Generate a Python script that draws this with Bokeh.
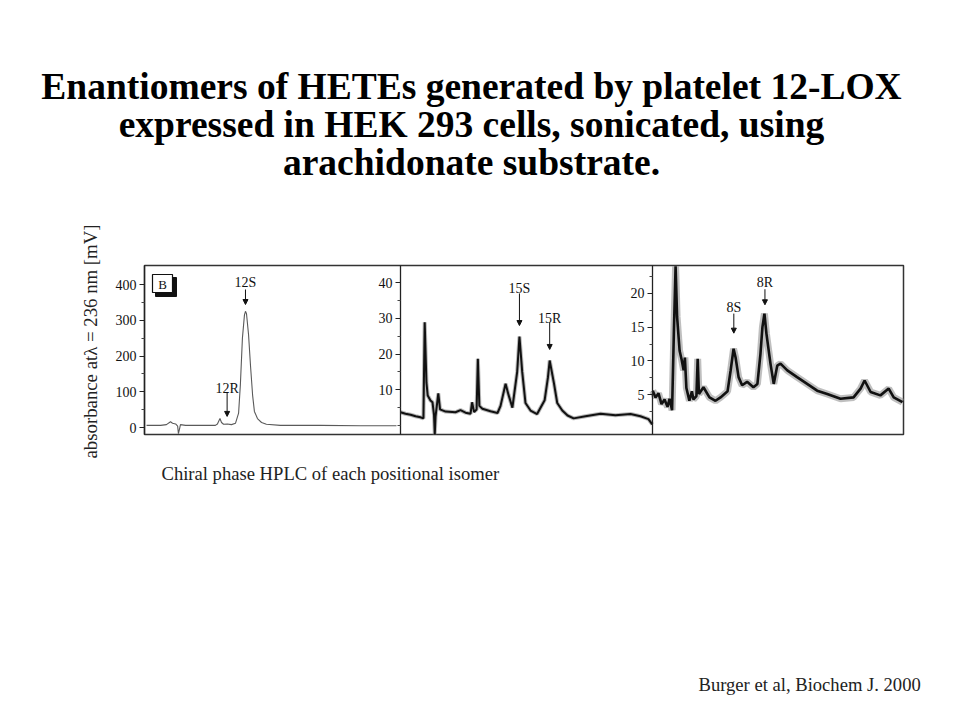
import math
from bokeh.plotting import figure
from bokeh.models import (Range1d, LinearAxis, FixedTicker, Label, Arrow, NormalHead,
                          ColumnDataSource)
from bokeh.core.properties import value
from bokeh.embed import file_html
from bokeh.resources import INLINE

# ---------------- data ----------------
# Panel B-1: 12-HETE (mV)
p1_x = [0.8, 6.3, 8.6, 10.2, 11.0, 12.2, 13.0, 13.3, 13.7, 14.1, 16.1, 22.0, 27.8, 28.6,
        29.6, 30.2, 31.0, 32.5, 34.1, 35.7, 36.9, 37.6, 38.4, 39.2, 39.6, 40.0, 40.8,
        41.6, 42.4, 43.1, 44.3, 45.9, 47.8, 53.3, 69.0, 84.7, 98.8]
p1_y = [6, 6, 8, 16, 12, 10, 4, -17, -5, 8, 6, 6, 6, 10,
        25, 14, 9, 10, 8, 12, 40, 120, 250, 315, 325, 318, 260,
        170, 90, 45, 25, 14, 9, 6, 6, 5, 5]

# Panel B-2: 15-HETE (mV)
p2_x = [0.0, 2.0, 4.0, 6.0, 7.9, 9.1, 9.6, 10.3, 10.8, 11.9, 12.7, 13.3, 13.6, 13.9,
        15.0, 15.7, 17.9, 21.8, 23.8, 25.8, 27.8, 28.4, 29.2, 30.2, 30.7, 31.3, 32.5,
        35.7, 38.5, 39.7, 41.7, 42.9, 44.4, 46.3, 47.2, 48.3, 49.6, 51.6, 54.2, 57.2,
        58.5, 59.2, 60.9, 62.2, 64.2, 66.3, 68.7, 73.4, 79.4, 85.3, 91.3, 95.2, 98.4, 99.9]
p2_y = [3.7, 3.3, 3.0, 2.6, 2.3, 2.0, 28.9, 12.0, 8.4, 7.0, 6.5, 3.0, -2.5, 2.5,
        9.0, 4.5, 3.9, 3.7, 4.3, 3.6, 3.3, 6.5, 3.8, 4.5, 18.7, 5.5, 4.7,
        4.0, 3.5, 5.5, 11.7, 8.5, 5.0, 15.0, 24.9, 15.0, 6.3, 4.2, 3.2, 7.1,
        13.4, 18.2, 11.8, 6.3, 4.2, 2.8, 2.0, 2.6, 3.3, 2.9, 3.2, 2.6, 1.8, 0.3]

# Panel B-3: 8-HETE (mV); the solvent spike runs off the top of the scale (24)
p3_x = [0.1, 1.2, 2.4, 3.6, 4.8, 6.0, 6.8, 7.8, 8.5, 9.2, 9.8, 10.8, 11.6, 12.4, 12.9,
        13.5, 14.7, 15.7, 16.3, 17.5, 18.0, 18.5, 20.3, 22.7, 25.1, 27.1, 29.9, 31.1,
        32.3, 33.1, 34.3, 35.7, 37.7, 40.2, 41.8, 43.0, 43.8, 44.6, 45.4, 47.0, 48.3,
        49.7, 51.0, 53.7, 57.6, 61.6, 65.6, 69.6, 74.9, 80.1, 82.9, 84.5, 86.9, 90.8,
        94.1, 96.1, 99.6]
p3_y = [5.6, 4.6, 5.2, 3.6, 4.3, 3.2, 4.4, 2.7, 14.0, 24.0, 16.5, 11.5, 10.2, 8.6, 10.5,
        6.0, 4.1, 5.5, 4.3, 4.8, 10.3, 5.1, 6.1, 4.6, 4.1, 4.6, 5.5, 8.5,
        11.8, 10.5, 7.6, 6.4, 6.9, 6.1, 6.6, 11.0, 15.0, 17.0, 14.0, 9.6, 6.6,
        9.3, 9.6, 8.6, 7.6, 6.6, 5.6, 5.1, 4.4, 4.6, 5.9, 7.1, 5.4, 4.9,
        5.9, 4.6, 3.9]

# peak annotations: name, label x, label y, arrow start y, arrow end y
p1_peaks = ["12S", "12R"]
p1_peak_x = [39.6, 32.4]
p1_peak_label_y = [405, 109]
p1_arrow_from = [386, 98]
p1_arrow_to = [344, 31]

p2_peaks = ["15S", "15R"]
p2_peak_x = [47.2, 59.2]
p2_peak_label_y = [38.4, 30.0]
p2_arrow_from = [37.0, 28.9]
p2_arrow_to = [28.0, 21.3]

p3_peaks = ["8S", "8R"]
p3_peak_x = [32.4, 44.8]
p3_peak_label_y = [17.9, 21.6]
p3_arrow_from = [17.0, 20.6]
p3_arrow_to = [14.1, 18.3]

p1_ticks = [0, 100, 200, 300, 400]
p2_ticks = [10, 20, 30, 40]
p3_ticks = [5, 10, 15, 20]

title_lines = ["Enantiomers of HETEs generated by platelet 12-LOX",
               "expressed in HEK 293 cells, sonicated, using",
               "arachidonate substrate."]
y_label = "absorbance at\u03bb = 236 nm [mV]"
caption = "Chiral phase HPLC of each positional isomer"
citation = "Burger et al, Biochem J. 2000"

# ---------------- layout (canvas pixels) ----------------
W, H = 944, 704
FL, FR, FT, FB = 144, 903, 265, 434          # chart box edges
panels_px = [(144, 399), (400, 652), (652, 903)]
# y pixel of value 0 and pixels per unit for each panel
y_cal = [(427, 0.3575), (425, 3.57), (428, 6.76)]

SERIF = "Liberation Serif"

p = figure(width=W, height=H, output_backend="svg", toolbar_location=None,
           x_range=Range1d(0, W), y_range=Range1d(H, 0),
           x_axis_type=None, y_axis_type=None,
           min_border=0, min_border_left=0, min_border_right=0,
           min_border_top=0, min_border_bottom=0)
p.grid.visible = False
p.outline_line_color = None
p.background_fill_color = "white"
p.border_fill_color = "white"

for i, ((l, r), (y0, ppu)) in enumerate(zip(panels_px, y_cal)):
    s = (r - l) / 100.0
    p.extra_x_ranges[f"x{i}"] = Range1d(-l / s, (W - l) / s)
    p.extra_y_ranges[f"y{i}"] = Range1d((y0 - H) / ppu, y0 / ppu)

# chart box
p.quad(left=[FL], right=[FR], top=[FT], bottom=[FB], fill_color=None,
       line_color="#333333", line_width=1.5)

# traces
p.line(p1_x, p1_y, x_range_name="x0", y_range_name="y0", line_color="#5a5a5a", line_width=1.1)
p.line(p2_x, p2_y, x_range_name="x1", y_range_name="y1", line_color="#8a8a8a", line_width=4.0, line_alpha=0.6)
p.line(p2_x, p2_y, x_range_name="x1", y_range_name="y1", line_color="#111111", line_width=2.0)
p.line(p3_x, p3_y, x_range_name="x2", y_range_name="y2", line_color="#8a8a8a", line_width=7, line_alpha=0.55)
p.line(p3_x, p3_y, x_range_name="x2", y_range_name="y2", line_color="#111111", line_width=2.6)

def style_axis(ax):
    ax.axis_line_color = "#222222"
    ax.axis_line_width = 1.3
    ax.major_tick_out = 5
    ax.major_tick_in = 0
    ax.minor_tick_out = 3
    ax.minor_tick_in = 0
    ax.major_tick_line_color = "#222222"
    ax.minor_tick_line_color = "#444444"
    ax.major_label_text_font = SERIF
    ax.major_label_text_font_size = "14px"
    ax.major_label_text_color = "#111111"
    ax.major_label_standoff = 3

minors = [[50, 150, 250, 350], [0, 5, 15, 25, 35], [2.5, 7.5, 12.5, 17.5, 22.5]]
for i, ticks in enumerate([p1_ticks, p2_ticks, p3_ticks]):
    y0, ppu = y_cal[i]
    ax = LinearAxis(y_range_name=f"y{i}", fixed_location=panels_px[i][0],
                    ticker=FixedTicker(ticks=ticks, minor_ticks=minors[i]),
                    bounds=((y0 - FB) / ppu, (y0 - FT) / ppu))
    style_axis(ax)
    p.add_layout(ax, "left")

# peak labels and arrows
for i, (names, px_, ly, af, at) in enumerate([
        (p1_peaks, p1_peak_x, p1_peak_label_y, p1_arrow_from, p1_arrow_to),
        (p2_peaks, p2_peak_x, p2_peak_label_y, p2_arrow_from, p2_arrow_to),
        (p3_peaks, p3_peak_x, p3_peak_label_y, p3_arrow_from, p3_arrow_to)]):
    src = ColumnDataSource(dict(x=px_, y=ly, t=names))
    p.text("x", "y", text="t", source=src, x_range_name=f"x{i}", y_range_name=f"y{i}",
           text_align="center", text_baseline="alphabetic", text_font=value(SERIF),
           text_font_size="14px", text_color="#111111")
    for xx, a, b in zip(px_, af, at):
        p.add_layout(Arrow(end=NormalHead(size=5, fill_color="#111111", line_color="#111111"),
                           x_start=xx, y_start=a, x_end=xx, y_end=b, line_width=1,
                           line_color="#111111", x_range_name=f"x{i}", y_range_name=f"y{i}"))

# "B" panel tag
p.quad(left=[155], right=[176], top=[277], bottom=[296], fill_color="#111111", line_color="#111111")
p.quad(left=[152], right=[172], top=[274], bottom=[292], fill_color="white", line_color="#111111", line_width=1.2)
p.add_layout(Label(x=162, y=283.5, text="B", text_align="center", text_baseline="middle",
                   text_font=SERIF, text_font_size="13px", text_color="#111111"))

# titles and texts
for txt, yy in zip(title_lines, [86, 124, 162]):
    p.add_layout(Label(x=471, y=yy, text=txt, text_align="center", text_baseline="alphabetic",
                       text_font=SERIF, text_font_size="37.5px", text_font_style="bold",
                       text_color="black"))
p.add_layout(Label(x=90, y=341, text=y_label, angle=math.pi / 2, text_align="center",
                   text_baseline="middle", text_font=SERIF, text_font_size="18.8px",
                   text_color="#222222"))
p.add_layout(Label(x=161, y=473, text=caption, text_align="left", text_baseline="alphabetic",
                   text_font=SERIF, text_font_size="18.6px", text_color="#222222"))
p.add_layout(Label(x=698, y=684, text=citation, text_align="left", text_baseline="alphabetic",
                   text_font=SERIF, text_font_size="18.6px", text_color="#222222"))

open("out.html", "w").write(file_html(p, INLINE))
